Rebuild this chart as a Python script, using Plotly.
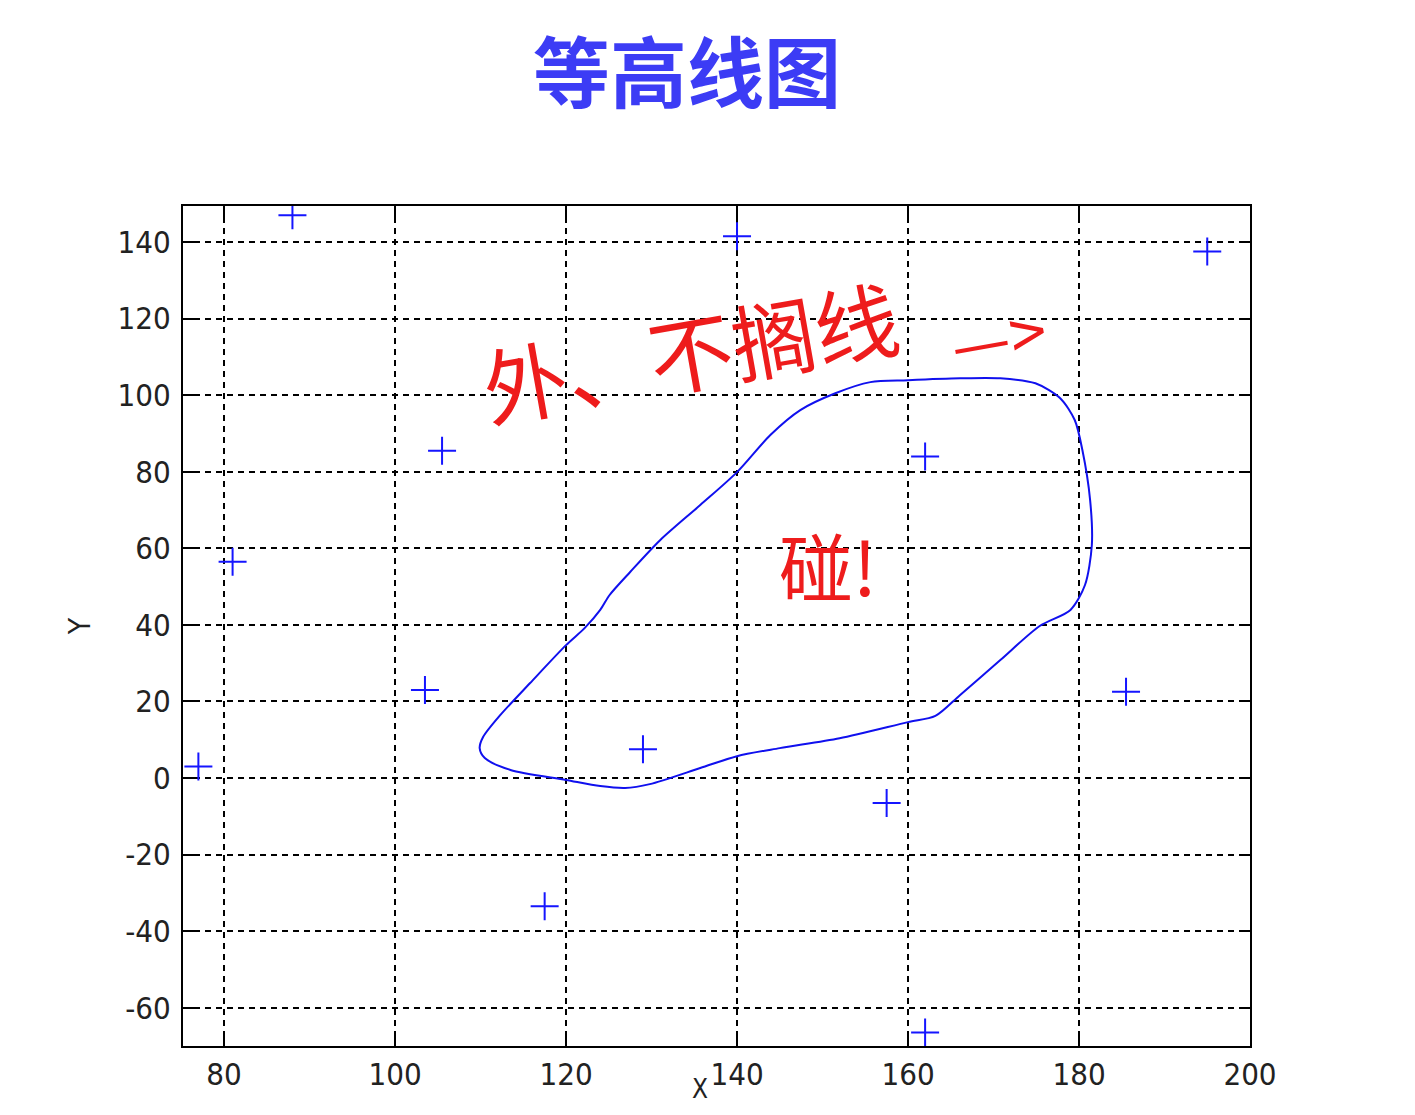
import plotly.graph_objects as go

# Measured points (x, y)
pts_x = [129, 140, 103.5, 88, 185.5, 195, 105.5, 157.5, 77, 81, 162, 162, 117.5]
pts_y = [7.5, 141.5, 23, 147, 22.5, 137.5, 85.5, -6.5, 3, 56.5, -66.5, 84, -33.5]

# Contour line
cont_x = [109.9, 110.5, 113.5, 120.0, 124.0, 126.9, 129.8, 135.7, 140.0, 145.0, 152.0, 160.0,
          163.2, 166.1, 170.8, 175.4, 179.0, 180.7, 181.5, 181.3, 180.4, 179.5, 177.8, 174.9,
          170.8, 166.1, 160.0, 155.6, 151.5, 147.4, 143.9, 140.0, 135.7, 131.0, 127.5, 125.1,
          124.0, 122.2, 120.0, 115.8, 112.3, 110.3, 109.9]
cont_y = [7.8, 5.2, 2.1, -0.5, -2.1, -2.6, -1.6, 2.6, 5.7, 7.8, 10.4, 14.6,
          16.2, 21.7, 30.8, 39.7, 43.9, 50.4, 60.8, 72.6, 85.6, 93.5, 99.2, 103.1,
          104.4, 104.4, 103.9, 103.4, 100.5, 96.1, 89.6, 79.9, 71.3, 62.1, 53.8, 47.8,
          43.9, 39.2, 34.7, 24.8, 16.4, 10.7, 7.8]

x_ticks = [80, 100, 120, 140, 160, 180, 200]
x_ticklabels = ["80", "100", "120", "140", "160", "180", "200"]
y_ticks = [-60, -40, -20, 0, 20, 40, 60, 80, 100, 120, 140]
y_ticklabels = ["-60", "-40", "-20", "0", "20", "40", "60", "80", "100", "120", "140"]

fig = go.Figure()
fig.add_trace(go.Scatter(x=cont_x, y=cont_y, mode="lines",
                         line=dict(color="#1010ee", width=2, shape="spline", smoothing=0.8),
                         showlegend=False, hoverinfo="skip"))
fig.add_trace(go.Scatter(x=pts_x, y=pts_y, mode="markers",
                         marker=dict(symbol="cross-thin", size=20,
                                     line=dict(color="#1515ff", width=2)),
                         showlegend=False))

cond = "DejaVu Sans Condensed, Liberation Sans Narrow, Arial Narrow, sans-serif"
tickfont = dict(family=cond, size=31, color="#222")
axis_common = dict(showline=True, linecolor="black", linewidth=2, mirror="ticks",
                   ticks="inside", ticklen=11, tickwidth=2, tickcolor="black",
                   showgrid=True, gridcolor="black", gridwidth=1.6, griddash="6px,5px",
                   zeroline=False, tickfont=tickfont, automargin=False)

fig.update_xaxes(range=[75.2, 200], tickvals=x_ticks, ticktext=x_ticklabels, **axis_common)
fig.update_yaxes(range=[-70, 149.4], tickvals=y_ticks, ticktext=y_ticklabels,
                 ticklabelstandoff=4,
                 title=dict(text="Y", font=dict(family=cond, size=30, color="#222"), standoff=18),
                 **axis_common)

# x-axis title
fig.add_annotation(x=0.4845, y=0, xref="paper", yref="paper", text="X", showarrow=False,
                   xanchor="center", yanchor="bottom", yshift=-60,
                   font=dict(family=cond, size=26, color="#222"))

hand = dict(family="Noto Sans CJK SC", color="#ee1c1c")
fig.add_annotation(x=134.5, y=112, xref="x", yref="y", text="外、不搁线", showarrow=False,
                   font=dict(size=84, **hand), textangle=-10)
fig.add_annotation(x=170.5, y=116, xref="x", yref="y", text="—>", showarrow=False,
                   font=dict(size=66, **hand), textangle=-10)
fig.add_annotation(x=150.6, y=56, xref="x", yref="y", text="碰!", showarrow=False,
                   font=dict(size=74, **hand))

fig.update_layout(
    width=1399, height=1099,
    margin=dict(l=175, r=157, t=198, b=61),
    paper_bgcolor="white", plot_bgcolor="white",
    title=dict(text="<b>等高线图</b>", x=0.4853, xref="container", xanchor="center",
               y=1 - 67 / 1099, yref="container", yanchor="middle",
               font=dict(family="Noto Sans CJK SC", size=77, color="#3c3cf5")),
)

fig.write_html("out.html")
